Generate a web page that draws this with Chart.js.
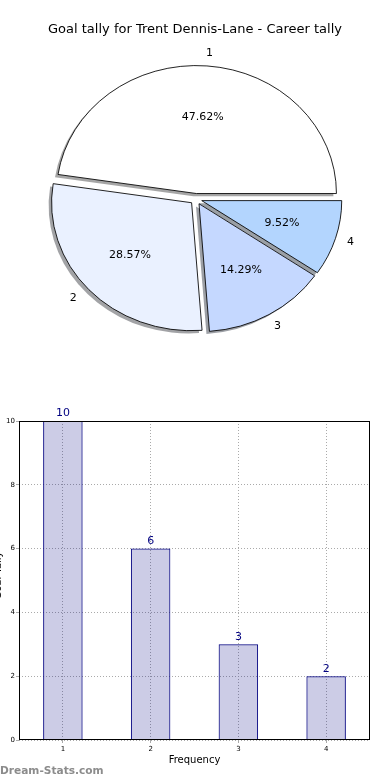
<!DOCTYPE html>
<html lang="en">
<head>
<meta charset="UTF-8">
<title>Goal tally for Trent Dennis-Lane</title>
<script src="https://cdn.jsdelivr.net/npm/chart.js"></script>
<style>
  html, body { margin: 0; padding: 0; background: #fff; }
  body { width: 390px; height: 780px; position: relative; overflow: hidden; }
  #pieChart { position: absolute; left: 0; top: 0; }
  #barChart { position: absolute; left: 0; top: 390px; }
</style>
</head>
<body>
<canvas id="pieChart" width="390" height="360"></canvas>
<canvas id="barChart" width="390" height="390"></canvas>
<script>
const chartTitle = 'Goal tally for Trent Dennis-Lane - Career tally';
const categories = ['1', '2', '3', '4'];
const goalCounts = [10, 6, 3, 2];
const sliceColors = ['#ffffff', '#eaf1ff', '#c5d8ff', '#b3d5fe'];
const yTicks = [0, 2, 4, 6, 8, 10];
const xAxisLabel = 'Frequency';
const yAxisLabel = 'Goal Tally';
const watermark = 'Dream-Stats.com';

Chart.defaults.font.family = "'DejaVu Sans', sans-serif";
Chart.defaults.color = '#000';

// matplotlib goes counter-clockwise from 3 o'clock, Chart.js clockwise -> reverse the order
const pieLabels = categories.slice().reverse();
const pieValues = goalCounts.slice().reverse();
const pieColors = sliceColors.slice().reverse();
const total = goalCounts.reduce((a, b) => a + b, 0);

const EXPLODE = 6;     // px pushed out along each slice's middle
const SQUASH = 0.914;  // pie is an ellipse in the original
const SHADOW = 3;

function shade(hex) {
    const n = parseInt(hex.slice(1), 16);
    const r = (n >> 16) & 255, g = (n >> 8) & 255, b = n & 255;
    return 'rgba(' + Math.round(r * 0.3) + ',' + Math.round(g * 0.3) + ',' + Math.round(b * 0.3) + ',0.5)';
}

const piePlugin = {
    id: 'mplPie',
    afterDatasetsUpdate(chart) {
        chart.getDatasetMeta(0).data.forEach(arc => {
            const mid = (arc.startAngle + arc.endAngle) / 2;
            arc.x += Math.cos(mid) * EXPLODE;
            arc.y += Math.sin(mid) * EXPLODE;
        });
    },
    beforeDatasetsDraw(chart) {
        const { ctx, chartArea: a } = chart;
        const cy = (a.top + a.bottom) / 2;
        ctx.save();
        ctx.translate(0, cy);
        ctx.scale(1, SQUASH);
        ctx.translate(0, -cy);
        // shadows sit under every wedge
        chart.getDatasetMeta(0).data.forEach((arc, i) => {
            ctx.beginPath();
            ctx.moveTo(arc.x - SHADOW, arc.y + SHADOW);
            ctx.arc(arc.x - SHADOW, arc.y + SHADOW, arc.outerRadius, arc.startAngle, arc.endAngle);
            ctx.closePath();
            ctx.fillStyle = shade(pieColors[i]);
            ctx.fill();
        });
    },
    afterDatasetsDraw(chart) {
        const { ctx, chartArea: a } = chart;
        ctx.restore();
        const cy = (a.top + a.bottom) / 2;
        ctx.save();
        ctx.fillStyle = '#000';
        ctx.font = "11px 'DejaVu Sans'";
        ctx.textBaseline = 'middle';
        chart.getDatasetMeta(0).data.forEach((arc, i) => {
            const mid = (arc.startAngle + arc.endAngle) / 2;
            const R = arc.outerRadius;
            const px = r => arc.x + Math.cos(mid) * r;
            const py = r => cy + (arc.y + Math.sin(mid) * r - cy) * SQUASH;
            ctx.textAlign = Math.cos(mid) > 0 ? 'left' : 'right';
            ctx.fillText(pieLabels[i], px(R * 1.1) - 2, py(R * 1.1));
            ctx.textAlign = 'center';
            ctx.fillText((pieValues[i] / total * 100).toFixed(2) + '%', px(R * 0.6), py(R * 0.6));
        });
        // title spans wider than the pie box, so it is drawn here
        ctx.font = "13px 'DejaVu Sans'";
        ctx.textAlign = 'center';
        ctx.fillText(chartTitle, chart.width / 2, 30);
        ctx.restore();
    }
};

new Chart(document.getElementById('pieChart'), {
    type: 'pie',
    data: {
        labels: pieLabels,
        datasets: [{
            data: pieValues,
            backgroundColor: pieColors,
            borderColor: '#000',
            borderWidth: 0.9,
            clip: false
        }]
    },
    options: {
        responsive: false,
        animation: false,
        rotation: 90,
        radius: 140,
        layout: { padding: { left: 56, right: 54, top: 59, bottom: 21 } },
        plugins: {
            legend: { display: false },
            tooltip: { enabled: false },
            title: { display: false }
        }
    },
    plugins: [piePlugin]
});

const barPlugin = {
    id: 'barExtras',
    afterDatasetsDraw(chart) {
        const ctx = chart.ctx;
        ctx.save();
        ctx.fillStyle = '#000080';
        ctx.font = "11px 'DejaVu Sans'";
        ctx.textAlign = 'center';
        ctx.textBaseline = 'bottom';
        chart.getDatasetMeta(0).data.forEach((bar, i) => {
            ctx.fillText(String(goalCounts[i]), bar.x, bar.y - 2);
        });
        ctx.restore();
    },
    afterDraw(chart) {
        const { ctx, chartArea: a } = chart;
        ctx.save();
        ctx.strokeStyle = '#000';
        ctx.lineWidth = 1;
        ctx.strokeRect(Math.round(a.left) + 0.5, Math.round(a.top) + 0.5,
            Math.round(a.width) - 1, Math.round(a.height) - 1);

        ctx.fillStyle = '#000';
        ctx.font = "10px 'DejaVu Sans'";
        ctx.textAlign = 'center';
        ctx.textBaseline = 'middle';
        ctx.fillText(xAxisLabel, (a.left + a.right) / 2, 370);

        // y label is cut off by the left edge in the original
        ctx.save();
        ctx.translate(-2, (a.top + a.bottom) / 2 - 5);
        ctx.rotate(-Math.PI / 2);
        ctx.fillText(yAxisLabel, 0, 0);
        ctx.restore();

        ctx.fillStyle = '#8c8c8c';
        ctx.font = "bold 10.6px 'DejaVu Sans'";
        ctx.textAlign = 'left';
        ctx.fillText(watermark, 0, 381);
        ctx.restore();
    }
};

new Chart(document.getElementById('barChart'), {
    type: 'bar',
    data: {
        labels: categories,
        datasets: [{
            data: goalCounts,
            backgroundColor: 'rgba(0, 0, 128, 0.2)',
            borderColor: '#000080',
            borderWidth: 1,
            barPercentage: 0.45,
            categoryPercentage: 1
        }]
    },
    options: {
        responsive: false,
        animation: false,
        layout: { padding: { left: 0, right: 20, top: 31, bottom: 0 } },
        plugins: {
            legend: { display: false },
            tooltip: { enabled: false }
        },
        scales: {
            x: {
                grid: { offset: false, color: '#aaaaaa', tickLength: 3 },
                border: { display: false, dash: [1, 2] },
                ticks: { font: { size: 7 }, color: '#000', padding: 2 },
                afterFit(s) { s.height = 40; }
            },
            y: {
                min: 0,
                max: 10,
                afterBuildTicks(s) { s.ticks = yTicks.map(v => ({ value: v })); },
                grid: { color: '#aaaaaa', tickLength: 3 },
                border: { display: false, dash: [1, 2] },
                ticks: { font: { size: 7 }, color: '#000', padding: 1 },
                afterFit(s) { s.width = 19; }
            }
        }
    },
    plugins: [barPlugin]
});
</script>
</body>
</html>
